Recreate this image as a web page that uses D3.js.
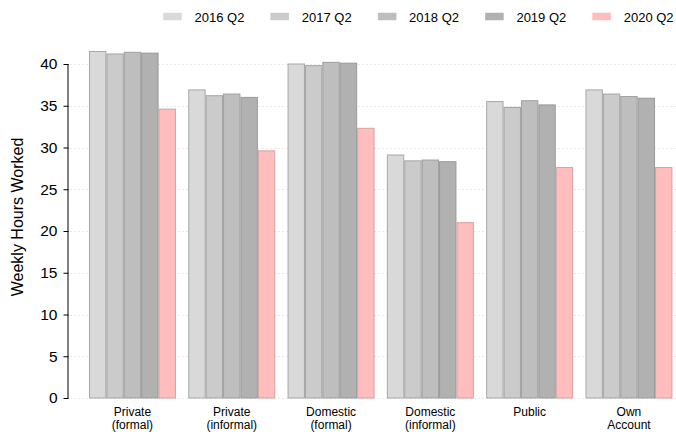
<!DOCTYPE html>
<html>
<head>
<meta charset="utf-8">
<script src="https://cdn.jsdelivr.net/npm/d3@7"></script>
<style>
  html, body { margin: 0; padding: 0; background: #fff; }
  svg { display: block; font-family: "Liberation Sans", Arial, sans-serif; }
</style>
</head>
<body>
<svg id="chart" width="676" height="432"></svg>
<script>
// Average weekly hours worked by sector, second quarter of each year
const categories = [["Private", "(formal)"], ["Private", "(informal)"], ["Domestic", "(formal)"],
                    ["Domestic", "(informal)"], ["Public", ""], ["Own", "Account"]];
const seriesNames = ["2016 Q2", "2017 Q2", "2018 Q2", "2019 Q2", "2020 Q2"];
const hours2016 = [41.5, 36.9, 40.0, 29.1, 35.5, 36.9];
const hours2017 = [41.2, 36.2, 39.8, 28.4, 34.8, 36.4];
const hours2018 = [41.4, 36.4, 40.2, 28.5, 35.6, 36.1];
const hours2019 = [41.3, 36.0, 40.1, 28.3, 35.1, 35.9];
const hours2020 = [34.6, 29.6, 32.3, 21.0, 27.6, 27.6];
const yTicks = [0, 5, 10, 15, 20, 25, 30, 35, 40];

const seriesValues = [hours2016, hours2017, hours2018, hours2019, hours2020];
const fills = ["#d9d9d9", "#cbcbcb", "#bebebe", "#b1b1b1", "#ffbdbd"];
const strokes = ["#a8a8a8", "#a3a3a3", "#9f9f9f", "#999999", "#d4a2a2"];

const svg = d3.select("#chart");
const axisX = 68.5;
const y = d3.scaleLinear().domain([0, 40]).range([398, 64]);

const x0 = d3.scaleBand()
  .domain(d3.range(categories.length))
  .range([82.8, 678.6])
  .paddingInner(0.124)
  .paddingOuter(0.062);
const x1 = d3.scaleBand()
  .domain(d3.range(seriesNames.length))
  .range([0, x0.bandwidth()]);

// dotted horizontal gridlines
svg.append("g").selectAll("line")
  .data(yTicks)
  .join("line")
  .attr("x1", axisX + 2).attr("x2", 676)
  .attr("y1", d => Math.round(y(d)) + 0.5).attr("y2", d => Math.round(y(d)) + 0.5)
  .attr("stroke", "#d2d2d2")
  .attr("stroke-width", 1)
  .attr("stroke-dasharray", "1,3");

// bars
const groups = svg.append("g").selectAll("g")
  .data(categories)
  .join("g")
  .attr("transform", (d, i) => `translate(${x0(i)},0)`);

groups.selectAll("rect")
  .data((d, i) => seriesValues.map((vals, s) => ({ s, v: vals[i] })))
  .join("rect")
  .attr("x", d => x1(d.s) + 0.5)
  .attr("y", d => y(d.v))
  .attr("width", x1.bandwidth() - 1)
  .attr("height", d => y(0) - y(d.v))
  .attr("fill", d => fills[d.s])
  .attr("stroke", d => strokes[d.s])
  .attr("stroke-width", 1);

// y axis
const yAxis = d3.axisLeft(y).tickValues(yTicks).tickSize(5).tickPadding(6);
const gy = svg.append("g").attr("transform", `translate(${axisX},0)`).call(yAxis);
gy.select(".domain").attr("stroke", "#000").attr("d", `M-0.5,${y(40)}V${y(0) + 0.5}`);
gy.selectAll(".tick line").attr("stroke", "#000");
gy.selectAll(".tick text")
  .attr("font-size", "15.5px")
  .attr("fill", "#000")
  .attr("font-family", "Liberation Sans, Arial, sans-serif");

// y axis title
svg.append("text")
  .attr("transform", "translate(23,217) rotate(-90)")
  .attr("text-anchor", "middle")
  .attr("font-size", "16px")
  .attr("fill", "#000")
  .text("Weekly Hours Worked");

// category labels, two lines each
const catLabels = svg.append("g").selectAll("g")
  .data(categories)
  .join("g")
  .attr("transform", (d, i) => `translate(${x0(i) + x0.bandwidth() / 2},0)`);
catLabels.append("text")
  .attr("y", 415.5)
  .attr("text-anchor", "middle")
  .attr("font-size", "12px")
  .attr("fill", "#000")
  .text(d => d[0]);
catLabels.append("text")
  .attr("y", 428.5)
  .attr("text-anchor", "middle")
  .attr("font-size", "12px")
  .attr("fill", "#000")
  .text(d => d[1]);

// legend
const legend = svg.append("g").selectAll("g")
  .data(seriesNames)
  .join("g")
  .attr("transform", (d, i) => `translate(${163.5 + i * 107.3},13)`);
legend.append("rect")
  .attr("width", 18).attr("height", 7)
  .attr("fill", (d, i) => fills[i])
  .attr("stroke", (d, i) => fills[i])
  .attr("stroke-width", 0.5);
legend.append("text")
  .attr("x", 31).attr("y", 8.5)
  .attr("font-size", "13px")
  .attr("fill", "#000")
  .text(d => d);
</script>
</body>
</html>
